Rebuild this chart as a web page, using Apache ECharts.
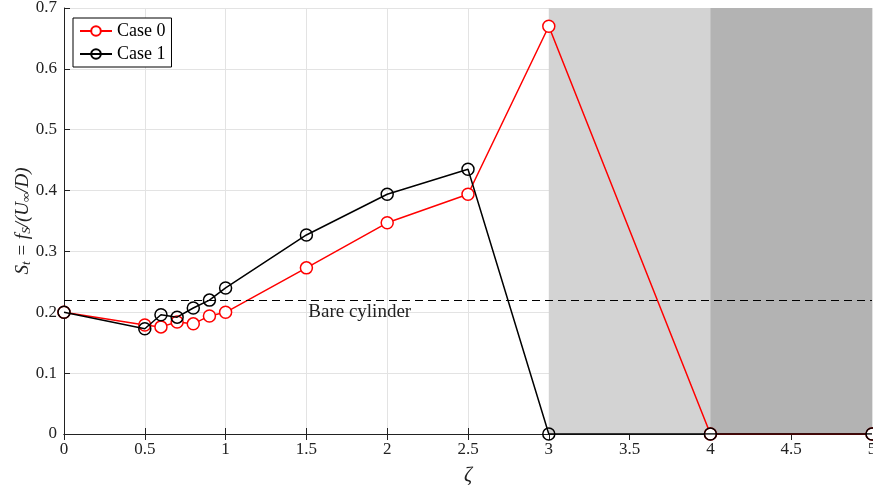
<!DOCTYPE html>
<html><head><meta charset="utf-8">
<script src="https://cdn.jsdelivr.net/npm/echarts@6/dist/echarts.min.js"></script>
<style>html,body{margin:0;padding:0;background:#fff}#c{width:873px;height:489px}</style>
</head><body><div id="c"></div>
<script>
const zeta = [0, 0.5, 0.6, 0.7, 0.8, 0.9, 1, 1.5, 2, 2.5, 3, 4, 5];
const case0 = [0.200, 0.179, 0.176, 0.184, 0.181, 0.194, 0.200, 0.273, 0.347, 0.394, 0.670, 0, 0];
const case1 = [0.200, 0.173, 0.196, 0.192, 0.207, 0.220, 0.240, 0.327, 0.394, 0.435, 0, 0, 0];
const bareCylinder = 0.22;
const shadeLight = [3, 4];
const shadeDark = [4, 5];

const FONT = 'Liberation Serif';
const chart = echarts.init(document.getElementById('c'));
const pairs = arr => zeta.map((x, i) => [x, arr[i]]);
chart.setOption({
  animation: false,
  textStyle: { fontFamily: FONT },
  grid: { left: 64, right: 1, top: 8, bottom: 55, containLabel: false, outerBoundsMode: 'none' },
  legend: {
    left: 73, top: 18, orient: 'vertical',
    backgroundColor: '#fff', borderColor: '#000', borderWidth: 1,
    padding: [4, 6, 4, 6], itemGap: 5, itemWidth: 32, itemHeight: 12,
    textStyle: { fontFamily: FONT, fontSize: 18, color: '#000' },
    data: ['Case 0', 'Case 1']
  },
  xAxis: [{
    type: 'value', min: 0, max: 5, interval: 0.5,
    name: 'ζ', nameLocation: 'middle', nameGap: 32, nameMoveOverlap: false,
    nameTextStyle: { fontFamily: FONT, fontSize: 20, fontStyle: 'italic', color: '#222' },
    axisLine: { onZero: false, lineStyle: { color: '#222', width: 1 } },
    axisTick: { inside: true, length: 6, lineStyle: { color: '#222' } },
    axisLabel: { fontFamily: FONT, fontSize: 17, color: '#222', margin: 7 },
    splitLine: { show: true, lineStyle: { color: '#e3e3e3', width: 1 } }
  }, {
    type: 'value', min: 0, max: 5, interval: 0.5, position: 'top',
    axisLine: { show: true, lineStyle: { color: '#222' } },
    axisTick: { inside: true, length: 6, lineStyle: { color: '#222' } },
    axisLabel: { show: false }, splitLine: { show: false }
  }],
  yAxis: {
    type: 'value', min: 0, max: 0.7, interval: 0.1,
    name: '{i|S}{s|t}{i| = f}{s|S}{i|/(U}{s|∞}{i|/D)}',
    nameLocation: 'middle', nameGap: 31, nameRotate: 90, nameMoveOverlap: false,
    nameTextStyle: {
      color: '#222',
      rich: {
        i: { fontFamily: FONT, fontSize: 19, fontStyle: 'italic', color: '#222' },
        s: { fontFamily: FONT, fontSize: 13, fontStyle: 'italic', color: '#222', padding: [8, 0, 0, 0] }
      }
    },
    axisLine: { show: true, lineStyle: { color: '#222' } },
    axisTick: { show: true, inside: true, length: 6, lineStyle: { color: '#222' } },
    axisLabel: { fontFamily: FONT, fontSize: 17, color: '#222', margin: 7,
      formatter: v => (Math.round(v * 10) / 10).toString() },
    splitLine: { show: true, lineStyle: { color: '#e3e3e3', width: 1 } }
  },
  series: [
    {
      type: 'line', data: [], silent: true, z: 1,
      markArea: {
        silent: true,
        data: [
          [{ xAxis: shadeLight[0], itemStyle: { color: '#d3d3d3', opacity: 1 } }, { xAxis: shadeLight[1] }],
          [{ xAxis: shadeDark[0], itemStyle: { color: '#b3b3b3', opacity: 1 } }, { xAxis: shadeDark[1] }]
        ]
      },
      markLine: {
        silent: true, symbol: 'none',
        lineStyle: { color: '#000', type: [8, 5], width: 1 },
        label: { show: false },
        data: [{ yAxis: bareCylinder }]
      },
      markPoint: {
        silent: true, symbol: 'rect', symbolSize: 2,
        itemStyle: { color: 'rgba(0,0,0,0)' },
        label: { show: true, position: 'inside', formatter: 'Bare cylinder', fontFamily: FONT, fontSize: 19, color: '#222' },
        data: [{ coord: [1.83, 0.2] }]
      }
    },
    {
      name: 'Case 0', type: 'line', data: pairs(case0), z: 3,
      symbol: 'circle', symbolSize: 12, showAllSymbol: true,
      lineStyle: { color: '#ff0000', width: 1.5 },
      itemStyle: { color: '#fff', borderColor: '#ff0000', borderWidth: 1.5 }
    },
    {
      name: 'Case 1', type: 'line', data: pairs(case1), z: 4,
      symbol: 'circle', symbolSize: 12, showAllSymbol: true,
      lineStyle: { color: '#000', width: 1.5 },
      itemStyle: { color: 'rgba(0,0,0,0)', borderColor: '#000', borderWidth: 1.5 }
    }
  ]
});
</script></body></html>
